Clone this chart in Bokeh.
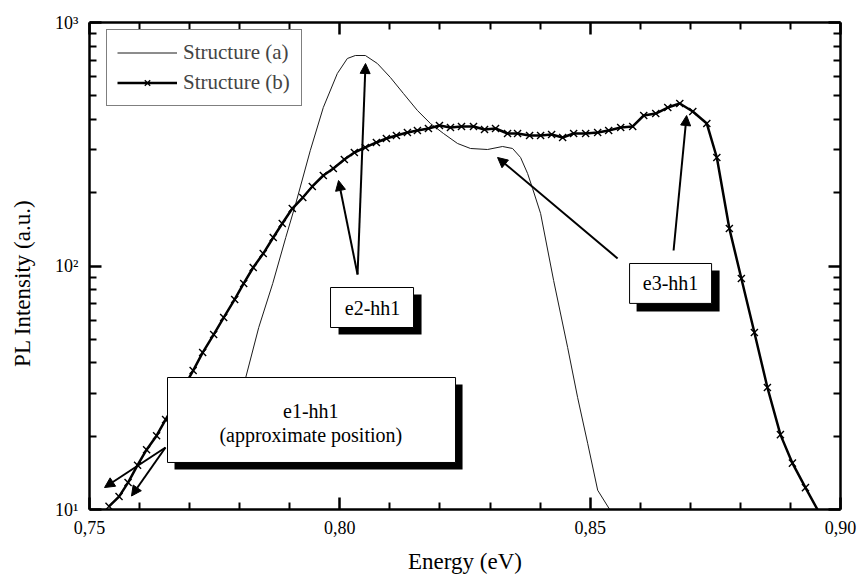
from bokeh.plotting import figure
from bokeh.models import (Range1d, FixedTicker, LinearAxis, LogAxis, CustomJSTickFormatter,
                          Legend, LegendItem, BoxAnnotation, Label, Arrow, NormalHead)
from bokeh.embed import file_html
from bokeh.resources import INLINE

# ---- PL spectra ----
# Structure (a): thin solid line
a_energy = [0.7788, 0.7812, 0.7838, 0.7866, 0.7892, 0.7912, 0.7941, 0.7967, 0.7995, 0.8015,
            0.8031, 0.8051, 0.8075, 0.8101, 0.8127, 0.8155, 0.8181, 0.8207, 0.8235, 0.8261,
            0.8295, 0.8325, 0.8345, 0.8361, 0.8375, 0.8385, 0.8401, 0.8427, 0.8455, 0.8475,
            0.8495, 0.8515, 0.8539]
a_intensity = [23.2, 34.8, 55.9, 84.8, 130.9, 180.5, 298.1, 447.7, 617.4, 711.5,
               731.9, 731.9, 678.6, 594.6, 511.0, 435.1, 384.7, 350.1, 318.6, 303.8,
               300.9, 309.6, 303.8, 279.0, 239.9, 208.1, 164.3, 87.2, 46.3, 28.8,
               18.7, 12.0, 10.0]

# Structure (b): thick line with crosses (last point is where the trace leaves the axis)
b_energy = [0.7539, 0.7559, 0.7577, 0.7596, 0.7614, 0.7634, 0.7652, 0.7671, 0.7689, 0.7707,
            0.7726, 0.7748, 0.7768, 0.7790, 0.7808, 0.7827, 0.7847, 0.7867, 0.7885, 0.7905,
            0.7926, 0.7945, 0.7967, 0.7987, 0.8009, 0.8029, 0.8051, 0.8073, 0.8093, 0.8113,
            0.8135, 0.8155, 0.8177, 0.8199, 0.8221, 0.8243, 0.8267, 0.8289, 0.8311, 0.8335,
            0.8355, 0.8379, 0.8401, 0.8423, 0.8445, 0.8467, 0.8491, 0.8515, 0.8537, 0.8561,
            0.8585, 0.8607, 0.8631, 0.8655, 0.8679, 0.8705, 0.8733, 0.8753, 0.8778, 0.8802,
            0.8828, 0.8854, 0.8880, 0.8904, 0.8930, 0.8954]
b_intensity = [10.3, 11.3, 12.9, 15.2, 17.6, 20.1, 23.4, 27.3, 32.0, 37.2,
               44.1, 52.3, 61.4, 72.9, 84.8, 98.6, 112.5, 130.9, 149.5, 172.2,
               191.1, 212.1, 235.3, 251.4, 273.8, 292.5, 306.7, 321.6, 333.9, 343.5,
               353.4, 360.2, 367.1, 377.6, 370.6, 374.1, 374.1, 363.7, 367.1, 350.1,
               350.1, 343.5, 343.5, 346.7, 337.1, 350.1, 350.1, 353.4, 360.2, 370.6,
               374.1, 415.0, 422.9, 447.6, 464.9, 431.0, 384.7, 279.0, 142.6, 88.9,
               53.3, 31.7, 20.3, 15.5, 12.3, 10.0]

x_major = [0.75, 0.80, 0.85, 0.90]
x_minor = [round(0.75 + 0.01 * i, 2) for i in range(16) if i % 5]
y_major = [10, 100, 1000]
y_minor = [m * 10 ** k for k in (1, 2) for m in range(2, 10)]

SERIF = "Liberation Serif"

p = figure(width=859, height=582, output_backend="svg", toolbar_location=None, tools="",
           x_range=Range1d(0.75, 0.90), y_range=Range1d(10, 1000), y_axis_type="log",
           min_border_left=89, min_border_right=19, min_border_top=22, min_border_bottom=73)
p.outline_line_color = None
p.grid.visible = False
p.background_fill_color = "white"
p.border_fill_color = "white"


def style_axis(ax, ticks, minor):
    ax.ticker = FixedTicker(ticks=ticks, minor_ticks=minor)
    ax.axis_line_width = 2.5
    ax.axis_line_color = "black"
    ax.major_tick_in = 12
    ax.major_tick_out = 0
    ax.minor_tick_in = 7
    ax.minor_tick_out = 0
    ax.major_tick_line_width = 2.5
    ax.minor_tick_line_width = 2
    ax.major_tick_line_color = "black"
    ax.minor_tick_line_color = "black"
    ax.major_label_text_font = SERIF
    ax.major_label_text_font_size = "18px"
    ax.major_label_text_color = "black"
    ax.axis_label_text_font = SERIF
    ax.axis_label_text_font_size = "23px"
    ax.axis_label_text_font_style = "normal"
    ax.axis_label_text_color = "black"


xb = p.xaxis[0]
style_axis(xb, x_major, x_minor)
xb.formatter = CustomJSTickFormatter(code="return tick.toFixed(2).replace('.', ',');")
xb.axis_label = "Energy (eV)"
xb.major_label_standoff = 11
xb.axis_label_standoff = 12

yl = p.yaxis[0]
style_axis(yl, y_major, y_minor)
yl.formatter = CustomJSTickFormatter(code="""
const e = Math.round(Math.log10(tick));
const sup = {1: '\u00b9', 2: '\u00b2', 3: '\u00b3'};
return '10' + sup[e];
""")
yl.axis_label = "PL Intensity (a.u.)" + "\u00a0" * 6
yl.major_label_standoff = 11
yl.axis_label_standoff = 17

# tick-only frame axes on top and right (no labels)
xt = LinearAxis(formatter=CustomJSTickFormatter(code="return '';"))
style_axis(xt, x_major, x_minor)
xt.major_label_standoff = 0
p.add_layout(xt, "above")

yr = LogAxis(formatter=CustomJSTickFormatter(code="return '';"))
style_axis(yr, y_major, y_minor)
yr.major_label_standoff = 0
p.add_layout(yr, "right")

# spectra
line_a = p.line(a_energy, a_intensity, line_color="#1a1a1a", line_width=1)
line_b = p.line(b_energy, b_intensity, line_color="black", line_width=2.5)
marks_b = p.scatter(b_energy[:-1], b_intensity[:-1], marker="x", size=10,
                    line_color="black", line_width=1.4)

legend = Legend(items=[LegendItem(label="Structure (a)", renderers=[line_a]),
                       LegendItem(label="Structure (b)", renderers=[line_b, marks_b])],
                location=(17, 403), padding=10, spacing=5, glyph_width=60, glyph_height=19,
                label_height=19, label_width=108, label_standoff=6,
                label_text_font=SERIF, label_text_font_size="21px",
                border_line_color="black", border_line_width=1,
                background_fill_color="white", background_fill_alpha=1)
p.add_layout(legend, "center")

# ---- transition annotations ----
def arrow(x0, y0, x1, y1):
    p.add_layout(Arrow(x_start=x0, y_start=y0, x_end=x1, y_end=y1, line_width=2,
                       line_color="black",
                       end=NormalHead(size=10, fill_color="black", line_color="black",
                                      line_width=1)))


def callout(left, right, bottom, top, sh_left, sh_right, sh_bottom, sh_top):
    p.add_layout(BoxAnnotation(left=sh_left, right=sh_right, bottom=sh_bottom, top=sh_top,
                               fill_color="black", fill_alpha=1, line_color=None))
    p.add_layout(BoxAnnotation(left=left, right=right, bottom=bottom, top=top,
                               fill_color="white", fill_alpha=1, line_color="black",
                               line_width=1, line_alpha=1))


def text(x, y, s):
    p.add_layout(Label(x=x, y=y, text=s, text_font=SERIF, text_font_size="20px",
                       text_align="center", text_baseline="middle", text_color="black"))


# e2-hh1
arrow(0.80354, 92.3, 0.80513, 678.6)
arrow(0.80354, 92.3, 0.79974, 224.4)
callout(0.79814, 0.81472, 55.9, 81.6, 0.79974, 0.81632, 52.3, 76.4)
text(0.80653, 67.5, "e2-hh1")

# e3-hh1
arrow(0.85548, 107.4, 0.83150, 279.0)
arrow(0.86666, 115.8, 0.86926, 415.0)
callout(0.85787, 0.87425, 70.2, 102.4, 0.85927, 0.87585, 65.0, 95.8)
text(0.86606, 84.8, "e3-hh1")

# e1-hh1
arrow(0.76518, 17.97, 0.75300, 12.31)
arrow(0.76518, 17.97, 0.75839, 11.36)
callout(0.76558, 0.82311, 15.6, 34.84, 0.76698, 0.82451, 14.6, 32.6)
text(0.7942, 25.5, "e1-hh1")
text(0.7942, 20.3, "(approximate position)")

open("out.html", "w").write(file_html(p, INLINE))
